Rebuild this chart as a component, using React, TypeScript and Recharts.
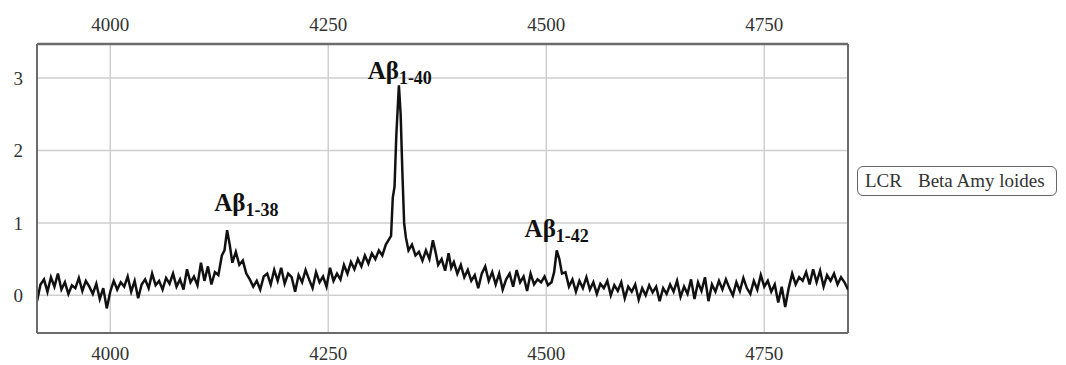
import React from 'react';
import { LineChart, Line, XAxis, YAxis, CartesianGrid, Legend, ReferenceDot, ReferenceLine } from 'recharts';

// m/z values (Da)
const mz = [
  3916, 3920, 3924, 3928, 3932, 3936, 3940, 3944, 3948, 3952,
  3956, 3960, 3964, 3968, 3972, 3976, 3980, 3984, 3988, 3992,
  3996, 4000, 4004, 4008, 4012, 4016, 4020, 4024, 4028, 4032,
  4036, 4040, 4044, 4048, 4052, 4056, 4060, 4064, 4068, 4072,
  4076, 4080, 4084, 4088, 4092, 4096, 4100, 4104, 4108, 4112,
  4116, 4120, 4124, 4128, 4131, 4134, 4137, 4140, 4144, 4148,
  4152, 4156, 4160, 4164, 4168, 4172, 4176, 4180, 4184, 4188,
  4192, 4196, 4200, 4204, 4208, 4212, 4216, 4220, 4224, 4228,
  4232, 4236, 4240, 4244, 4248, 4252, 4256, 4260, 4264, 4268,
  4272, 4276, 4280, 4284, 4288, 4292, 4296, 4300, 4304, 4308,
  4312, 4316, 4320, 4322, 4324, 4326, 4328, 4331, 4333, 4335,
  4337, 4339, 4342, 4346, 4350, 4354, 4358, 4362, 4366, 4370,
  4373, 4376, 4380, 4384, 4388, 4391, 4394, 4398, 4402, 4406,
  4410, 4414, 4418, 4422, 4426, 4430, 4434, 4438, 4442, 4446,
  4450, 4454, 4458, 4462, 4466, 4470, 4474, 4478, 4482, 4486,
  4490, 4494, 4498, 4502, 4506, 4509, 4512, 4515, 4518, 4522,
  4526, 4530, 4534, 4538, 4542, 4546, 4550, 4554, 4558, 4562,
  4566, 4570, 4574, 4578, 4582, 4586, 4590, 4594, 4598, 4602,
  4606, 4610, 4614, 4618, 4622, 4626, 4630, 4634, 4638, 4642,
  4646, 4650, 4654, 4658, 4662, 4666, 4670, 4674, 4678, 4682,
  4686, 4690, 4694, 4698, 4702, 4706, 4710, 4714, 4718, 4722,
  4726, 4730, 4734, 4738, 4742, 4746, 4750, 4754, 4758, 4762,
  4766, 4770, 4774, 4778, 4782, 4786, 4790, 4794, 4798, 4802,
  4806, 4810, 4814, 4818, 4822, 4826, 4830, 4834, 4838, 4842,
  4846,
];

// intensity, same order as mz
const intensity = [
  -0.08, 0.15, 0.22, 0.05, 0.25, 0.12, 0.3, 0.08, 0.18, 0.02,
  0.14, 0.1, 0.24, 0.06, 0.2, 0.12, 0.02, 0.16, -0.05, 0.1,
  -0.18, 0.05, 0.2, 0.08, 0.18, 0.12, 0.26, 0.05, 0.2, -0.04,
  0.15, 0.22, 0.1, 0.3, 0.14, 0.2, 0.08, 0.24, 0.16, 0.3,
  0.12, 0.22, 0.08, 0.36, 0.18, 0.26, 0.14, 0.45, 0.2, 0.4,
  0.15, 0.32, 0.28, 0.55, 0.62, 0.9, 0.7, 0.45, 0.6, 0.42,
  0.48, 0.3, 0.22, 0.12, 0.2, 0.08, 0.26, 0.3, 0.15, 0.35,
  0.2, 0.38, 0.16, 0.3, 0.25, 0.05, 0.28, 0.18, 0.35, 0.22,
  0.1, 0.32, 0.18, 0.26, 0.12, 0.38, 0.2, 0.3, 0.22, 0.42,
  0.3, 0.46, 0.36, 0.5, 0.4, 0.55, 0.44, 0.58, 0.5, 0.62,
  0.55, 0.7, 0.78, 0.82, 1.35, 1.5, 2.2, 2.9, 2.5, 1.7,
  1.0, 0.8, 0.62, 0.7, 0.55, 0.6, 0.48, 0.62, 0.5, 0.76,
  0.6, 0.42, 0.5, 0.34, 0.58, 0.38, 0.46, 0.3, 0.42, 0.25,
  0.35, 0.2, 0.28, 0.1, 0.3, 0.4, 0.2, 0.32, 0.15, 0.3,
  0.08, 0.22, 0.3, 0.12, 0.35, 0.18, 0.26, 0.06, 0.3, 0.15,
  0.22, 0.18, 0.26, 0.14, 0.18, 0.32, 0.62, 0.5, 0.3, 0.32,
  0.12, 0.22, 0.05, 0.2, 0.1, 0.25, 0.08, 0.18, 0.02, 0.16,
  0.1, 0.2, 0.0, 0.14, 0.06, 0.18, -0.04, 0.12, 0.05, 0.15,
  -0.06, 0.1, 0.0, 0.14, 0.04, 0.12, -0.08, 0.1, 0.02, 0.15,
  0.05, 0.2, -0.02, 0.12, 0.02, 0.22, -0.05, 0.18, 0.06, 0.25,
  -0.08, 0.15, 0.05, 0.2, 0.08, 0.22, 0.1, 0.0, 0.18, 0.06,
  0.24, 0.1, 0.02, 0.2, 0.08, 0.28, 0.12, 0.2, 0.05, 0.15,
  -0.1, 0.12, -0.16, 0.1, 0.3, 0.15, 0.25, 0.2, 0.32, 0.15,
  0.36, 0.18, 0.34, 0.12, 0.28, 0.2, 0.3, 0.15, 0.25, 0.18,
  0.08,
];

const xTicks = [4000, 4250, 4500, 4750];
const yTicks = [0, 1, 2, 3];
const xDomain = [3916, 4846];
const yDomain = [-0.52, 3.47];

const peakMain = ['Aβ', 'Aβ', 'Aβ'];
const peakSub = ['1-38', '1-40', '1-42'];
const peakLabelMz = [4156, 4332, 4512];
const peakLabelY = [1.16, 2.99, 0.8];

const seriesPrefix = 'LCR';
const seriesName = 'Beta Amy loides';

const data = mz.map((m, i) => ({ mz: m, v: intensity[i] }));

const FONT = '"Liberation Serif", "Times New Roman", serif';

const PeakLabel = (props: any) => {
  const { viewBox, main, sub } = props;
  const cx = viewBox.x + (viewBox.width || 0) / 2;
  const cy = viewBox.y + (viewBox.height || 0) / 2;
  return (
    <text x={cx} y={cy} textAnchor="middle" fontFamily={FONT} fontWeight="bold" fill="#111" style={{ fontFamily: FONT }}>
      <tspan fontSize={25}>{main}</tspan>
      <tspan fontSize={18} dy={5}>{sub}</tspan>
    </text>
  );
};

const LegendBox = () => (
  <div style={{ paddingLeft: 9 }}>
    <div
      style={{
        boxSizing: 'border-box',
        width: 200,
        border: '1.5px solid #666',
        borderRadius: 6,
        padding: '4px 7px',
        fontFamily: FONT,
        fontSize: 19,
        lineHeight: '20px',
        color: '#333',
        whiteSpace: 'pre',
        background: '#fff',
      }}
    >
      <span>{seriesPrefix}</span>
      <span style={{ marginLeft: 16 }}>{seriesName}</span>
    </div>
  </div>
);

const tickStyle = { fontFamily: FONT, fontSize: 19, fill: '#333' };

export default function App() {
  return (
    <div style={{ width: 1050, height: 357, fontFamily: FONT }}>
      <LineChart
        width={1050}
        height={357}
        data={data}
        margin={{ top: 0, right: 0, bottom: 0, left: 0 }}
        style={{ fontFamily: FONT }}
      >
        <CartesianGrid xAxisId="bottom" stroke="#cfcfcf" strokeWidth={1.5} />
        <XAxis
          xAxisId="bottom"
          dataKey="mz"
          type="number"
          domain={xDomain}
          ticks={xTicks}
          allowDataOverflow
          orientation="bottom"
          height={32}
          tickLine={false}
          tickSize={0}
          tickMargin={14}
          tick={tickStyle}
          axisLine={{ stroke: '#6b6b6b', strokeWidth: 2 }}
        />
        <XAxis
          xAxisId="top"
          dataKey="mz"
          type="number"
          domain={xDomain}
          ticks={xTicks}
          allowDataOverflow
          orientation="top"
          height={36}
          tickLine={false}
          tickSize={0}
          tickMargin={13}
          tick={tickStyle}
          axisLine={{ stroke: '#6b6b6b', strokeWidth: 2.5 }}
        />
        <YAxis
          type="number"
          domain={yDomain}
          ticks={yTicks}
          allowDataOverflow
          width={29}
          tickLine={false}
          tickSize={0}
          tickMargin={14}
          tick={tickStyle}
          axisLine={{ stroke: '#6b6b6b', strokeWidth: 2 }}
        />
        <ReferenceLine xAxisId="bottom" x={xDomain[1]} stroke="#6b6b6b" strokeWidth={2} />
        <Legend
          layout="vertical"
          align="right"
          verticalAlign="top"
          wrapperStyle={{ top: 158, left: 840, right: 'auto', width: 210 }}
          content={<LegendBox />}
        />
        <Line
          xAxisId="bottom"
          type="linear"
          dataKey="v"
          name={seriesName}
          stroke="#111"
          strokeWidth={2.5}
          dot={false}
          activeDot={false}
          isAnimationActive={false}
        />
        {peakSub.map((s, i) => (
          <ReferenceDot
            key={s}
            xAxisId="bottom"
            x={peakLabelMz[i]}
            y={peakLabelY[i]}
            r={0}
            fill="none"
            stroke="none"
            ifOverflow="visible"
            label={<PeakLabel main={peakMain[i]} sub={s} />}
          />
        ))}
      </LineChart>
    </div>
  );
}
